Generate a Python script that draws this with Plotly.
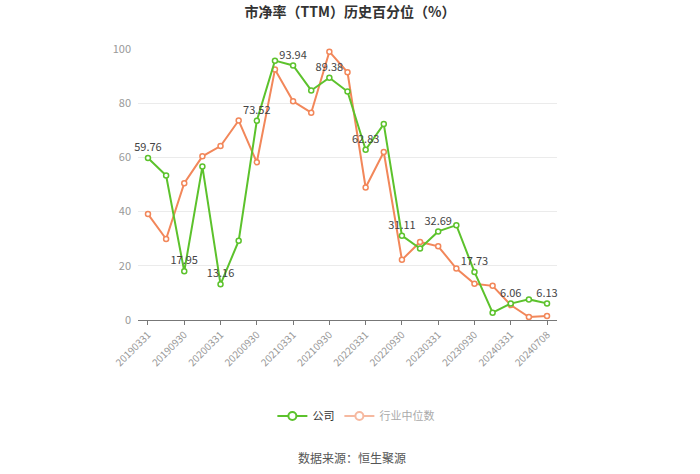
import plotly.graph_objects as go

dates = ["20190331", "20190630", "20190930", "20191231", "20200331", "20200630",
         "20200930", "20201231", "20210331", "20210630", "20210930", "20211231",
         "20220331", "20220630", "20220930", "20221231", "20230331", "20230630",
         "20230930", "20231231", "20240331", "20240630", "20240708"]
company = [59.76, 53.3, 17.95, 56.6, 13.16, 29.2, 73.52, 95.7, 93.94, 84.7, 89.38, 84.3,
           62.83, 72.3, 31.11, 26.4, 32.69, 35.0, 17.73, 2.7, 6.06, 7.6, 6.13]
industry = [39.1, 29.9, 50.5, 60.4, 64.2, 73.6, 58.2, 92.4, 80.7, 76.5, 99.0, 91.4,
            48.9, 62.0, 22.2, 28.8, 27.2, 19.0, 13.4, 12.6, 5.5, 1.1, 1.5]
tick_dates = ["20190331", "20190930", "20200331", "20200930", "20210331", "20210930",
              "20220331", "20220930", "20230331", "20230930", "20240331", "20240708"]
label_idx = [0, 2, 4, 6, 8, 10, 12, 14, 16, 18, 20, 22]

GREEN = "#5cc22c"
ORANGE = "#f2875a"
FONT = "Noto Sans CJK SC"

labels = [f"{v:.2f}" if i in label_idx else "" for i, v in enumerate(company)]

fig = go.Figure()
fig.add_trace(go.Scatter(
    x=dates, y=industry, mode="lines+markers", name="行业中位数", showlegend=False,
    line=dict(color=ORANGE, width=2), cliponaxis=False,
    marker=dict(symbol="circle", size=5, color="white", line=dict(color=ORANGE, width=1.5)),
))
fig.add_trace(go.Scatter(
    x=dates, y=company, mode="lines+markers+text", name="公司", showlegend=False,
    text=labels, textposition="top center", cliponaxis=False,
    textfont=dict(family=FONT, size=11, color="#444"),
    line=dict(color=GREEN, width=2),
    marker=dict(symbol="circle", size=5, color="white", line=dict(color=GREEN, width=1.5)),
))
# legend entries
fig.add_trace(go.Scatter(
    x=[None], y=[None], mode="lines+markers", name="公司",
    line=dict(color=GREEN, width=2),
    marker=dict(symbol="circle", size=8, color="white", line=dict(color=GREEN, width=2)),
))
fig.add_trace(go.Scatter(
    x=[None], y=[None], mode="lines+markers",
    name='<span style="color:#aaaaaa">行业中位数</span>',
    line=dict(color="#f6b9a0", width=2),
    marker=dict(symbol="circle", size=8, color="white", line=dict(color="#f6b9a0", width=2)),
))

fig.update_layout(
    width=700, height=474,
    margin=dict(l=138, r=143, t=49, b=154),
    paper_bgcolor="white", plot_bgcolor="white",
    font=dict(family=FONT, color="#666"),
    title=dict(text="<b>市净率（TTM）历史百分位（%）</b>", x=0.5, xanchor="center",
               y=0.974, yanchor="middle",
               font=dict(family=FONT, size=14, color="#333")),
    showlegend=True,
    legend=dict(orientation="h", x=0.52, xanchor="center", y=-0.354, yanchor="middle",
                font=dict(family=FONT, size=11, color="#333"), itemwidth=30,
                bgcolor="rgba(0,0,0,0)"),
    xaxis=dict(type="category", categoryorder="array", categoryarray=dates,
               range=[-0.55, 22.55], tickmode="array", tickvals=tick_dates,
               ticktext=tick_dates, tickangle=-45,
               tickfont=dict(family=FONT, size=10, color="#999"),
               showgrid=False, showline=True, linecolor="#777", linewidth=1,
               ticks="outside", ticklen=4, tickcolor="#777", zeroline=False),
    yaxis=dict(range=[0, 100], tickvals=[0, 20, 40, 60, 80, 100],
               tickfont=dict(family=FONT, size=11, color="#999"),
               showgrid=True, gridcolor="#ebebeb", gridwidth=1,
               showline=False, zeroline=False, ticks="", ticklabelstandoff=6),
    annotations=[dict(text="数据来源：恒生聚源", xref="paper", yref="paper",
                      x=0.51, y=-0.506, xanchor="center", yanchor="middle",
                      showarrow=False, font=dict(family=FONT, size=12, color="#555"))],
)

fig.write_html("out.html")
